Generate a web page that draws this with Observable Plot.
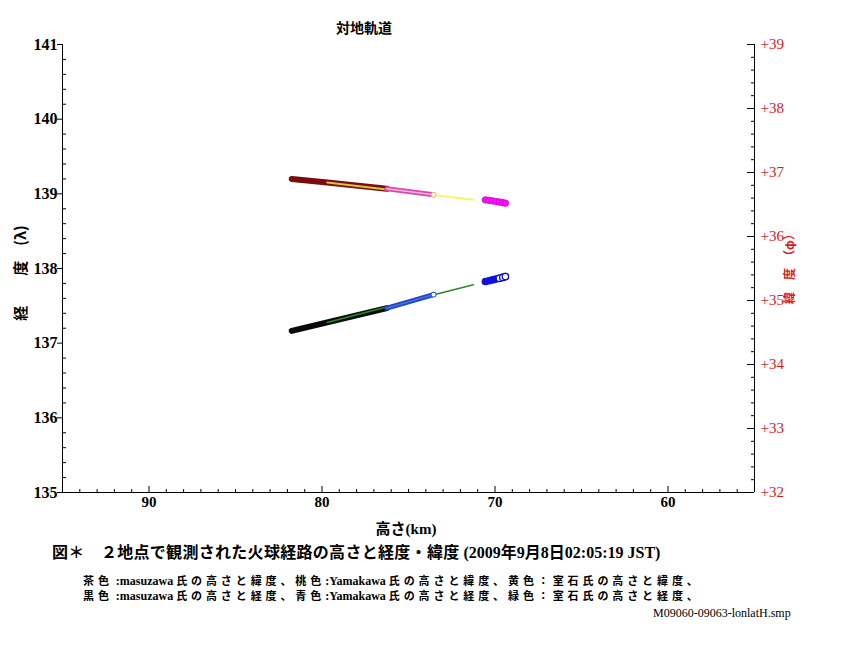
<!DOCTYPE html>
<html>
<head>
<meta charset="utf-8">
<script src="https://cdn.jsdelivr.net/npm/d3@7"></script>
<script src="https://cdn.jsdelivr.net/npm/@observablehq/plot@0.6"></script>
<style>
  body { margin: 0; background: #fff; }
  #wrap { position: relative; width: 841px; height: 645px; overflow: hidden; background: #fff; }
  #wrap svg { position: absolute; left: 0; top: 0; }
  #wrap svg text { font-family: "Liberation Serif", "Times New Roman", serif; }
  .t { position: absolute; white-space: nowrap; font-weight: bold; color: #000; }
  .c { transform: translate(-50%, -50%); }
  .j { font-family: "Noto Sans CJK JP", sans-serif; }
  .l { font-family: "Liberation Serif", "Noto Sans CJK JP", serif; }
  .sp { letter-spacing: 3.9px; }
  .l12 { font-size: 12px; }
</style>
</head>
<body>
<div id="wrap"></div>
<script>
// ---- texts / ticks ----
const chartTitle = "対地軌道";
const altTicks = [90, 80, 70, 60];
const lonTicks = [135, 136, 137, 138, 139, 140, 141];
const latTicks = [32, 33, 34, 35, 36, 37, 38, 39];

// ---- data (altitude km, latitude deg, longitude deg) ----
// Masuzawa: brown = latitude, black = longitude
const masuzawaAlt = [81.75, 79.7, 76.25];
const masuzawaLat = [36.900, 36.845, 36.745];
const masuzawaLon = [137.165, 137.278, 137.470];
// Yamakawa: pink = latitude, blue = longitude (main segment)
const yamakawaAlt = [76.25, 74.9, 73.55];
const yamakawaLat = [36.745, 36.700, 36.652];
const yamakawaLon = [137.470, 137.560, 137.650];
// Yamakawa: separate cluster of points
const yamakawa2Alt = [70.55, 70.35, 70.15, 69.95, 69.75, 69.55, 69.4];
const yamakawa2Lat = [36.572, 36.565, 36.557, 36.548, 36.539, 36.529, 36.521];
const yamakawa2Lon = [137.826, 137.836, 137.847, 137.858, 137.869, 137.881, 137.892];
// Muroishi: yellow = latitude, green = longitude
const muroishiAlt = [79.7, 75.5, 71.25];
const muroishiLat = [36.845, 36.710, 36.573];
const muroishiLon = [137.278, 137.530, 137.782];

// ---- dual axis mapping: latitude (right, 32..39) onto longitude scale (left, 135..141) ----
const toLon = lat => 135 + (lat - 32) * 6 / 7;
const fromLon = v => 32 + (v - 135) * 7 / 6;
const rows = (alt, vals, f = v => v) => alt.map((a, i) => ({alt: a, y: f(vals[i])}));

const W = 841, H = 645, mL = 62, mR = 87, mT = 44, mB = 153;
const fw = W - mL - mR, fh = H - mT - mB;
const serif = "Liberation Serif";
const red = "#d81a1a";

const minorAlt = d3.range(56, 95).filter(v => v % 10 !== 0);
const minorLon = d3.range(1, 30).filter(k => k % 5 !== 0).map(k => 135 + k * 0.2);
const minorLat = d3.range(1, 35).filter(k => k % 5 !== 0).map(k => toLon(32 + k * 0.2));

const brown = rows(masuzawaAlt, masuzawaLat, toLon);
const black = rows(masuzawaAlt, masuzawaLon);
const pink = rows(yamakawaAlt, yamakawaLat, toLon);
const blue = rows(yamakawaAlt, yamakawaLon);
const magenta2 = rows(yamakawa2Alt, yamakawa2Lat, toLon);
const blue2 = rows(yamakawa2Alt, yamakawa2Lon);
const yellow = rows(muroishiAlt, muroishiLat, toLon);
const green = rows(muroishiAlt, muroishiLon);

const chart = Plot.plot({
  width: W, height: H,
  marginLeft: mL, marginRight: mR, marginTop: mT, marginBottom: mB,
  style: {background: "transparent", overflow: "visible", fontFamily: "'Liberation Serif', serif"},
  x: {domain: [95, 55], label: null},
  y: {domain: [135, 141], label: null},
  marks: [
    // axis lines
    Plot.ruleX([95, 55], {stroke: "black"}),
    Plot.ruleY([135], {stroke: "black"}),
    // bottom ticks (inward)
    Plot.ruleX(altTicks, {insetTop: fh - 6, stroke: "black"}),
    Plot.ruleX(minorAlt, {insetTop: fh - 3, stroke: "black"}),
    // left ticks
    Plot.ruleY(lonTicks, {insetLeft: -5, insetRight: fw, stroke: "black"}),
    Plot.ruleY(minorLon, {insetRight: fw - 4, stroke: "black"}),
    // right ticks
    Plot.ruleY(latTicks.map(toLon), {insetLeft: fw - 7, stroke: "black"}),
    Plot.ruleY(minorLat, {insetLeft: fw - 3, stroke: "black"}),
    // tick labels
    Plot.axisX(altTicks, {tickSize: 0, tickPadding: 4, fontSize: 15, fontWeight: "bold", fontFamily: serif, label: null,
      tickFormat: d => String(d)}),
    Plot.axisY(lonTicks, {anchor: "left", tickSize: 0, tickPadding: 5, fontSize: 16, fontWeight: "bold", fontFamily: serif, label: null,
      tickFormat: d => String(d)}),
    Plot.axisY(latTicks.map(toLon), {anchor: "right", tickSize: 0, tickPadding: 6, fontSize: 15, fontFamily: serif, color: red, label: null,
      tickFormat: d => "+" + Math.round(fromLon(d))}),
    // latitude group
    Plot.line(brown, {x: "alt", y: "y", stroke: "#7a0c0c", strokeWidth: 6, strokeLinecap: "round"}),
    Plot.line(yellow, {x: "alt", y: "y", stroke: "#f2f24a", strokeWidth: 2, strokeOpacity: 0.8}),
    Plot.line(pink, {x: "alt", y: "y", stroke: "#d84aae", strokeWidth: 5, strokeLinecap: "round"}),
    Plot.line(pink, {x: "alt", y: "y", stroke: "#f4b6da", strokeWidth: 1.6}),
    Plot.dot(pink.slice(-1), {x: "alt", y: "y", r: 2.5, fill: "white", stroke: "#e8b070", strokeWidth: 1}),
    Plot.dot(magenta2, {x: "alt", y: "y", r: 3.2, fill: "#f018f0", stroke: "#e000e0", strokeWidth: 1}),
    // longitude group
    Plot.line(black, {x: "alt", y: "y", stroke: "#0a0a0a", strokeWidth: 6, strokeLinecap: "round"}),
    Plot.line(green, {x: "alt", y: "y", stroke: "#2a8a2a", strokeWidth: 1.5}),
    Plot.line(blue, {x: "alt", y: "y", stroke: "#2048c8", strokeWidth: 5, strokeLinecap: "round"}),
    Plot.line(blue, {x: "alt", y: "y", stroke: "#4a78e0", strokeWidth: 1.4}),
    Plot.dot(blue.slice(-1), {x: "alt", y: "y", r: 2.5, fill: "white", stroke: "#2048c8", strokeWidth: 1}),
    Plot.dot(blue2, {x: "alt", y: "y", r: 3.2, fill: "#1414e0", stroke: "#1010d8", strokeWidth: 1.3}),
    Plot.dot(blue2.slice(4), {x: "alt", y: "y", r: 3.2, fill: "white", stroke: "#1010d8", strokeWidth: 1.3})
  ]
});

const wrap = document.getElementById("wrap");
wrap.appendChild(chart);

function addText(html, style, cls = "t") {
  const d = document.createElement("div");
  d.className = cls;
  d.setAttribute("style", style);
  d.innerHTML = html;
  wrap.appendChild(d);
}

addText(`<span class="j">${chartTitle}</span>`, "left:364px;top:28px;font-size:14px;line-height:14px", "t c");
addText(`<span class="j">高さ</span><span class="l">(km)</span>`, "left:406px;top:528px;font-size:15px;line-height:15px", "t c");
addText(`<span class="j">経　　度　(λ)</span>`, "left:20px;top:273px;font-size:15px;line-height:15px;transform:translate(-50%,-50%) rotate(-90deg)");
addText(`<span class="j">緯　度　（φ）</span>`, "left:789px;top:266px;font-size:12px;line-height:12px;color:" + red + ";transform:translate(-50%,-50%) rotate(-90deg)");

addText(`<span class="j" style="letter-spacing:0.3px">図＊　２地点で観測された火球経路の高さと経度・緯度</span><span class="l"> (2009年9月8日02:05:19 JST)</span>`,
  "left:52px;top:543px;font-size:16px;line-height:16px");
addText(`<span class="j sp">茶色</span><span class="l l12"> :masuzawa </span><span class="j sp">氏の高さと緯度、桃色</span><span class="l l12">:Yamakawa </span><span class="j sp">氏の高さと緯度、黄色：室石氏の高さと緯度、</span>`,
  "left:83px;top:574px;font-size:11px;line-height:12px");
addText(`<span class="j sp">黒色</span><span class="l l12"> :masuzawa </span><span class="j sp">氏の高さと経度、青色</span><span class="l l12">:Yamakawa </span><span class="j sp">氏の高さと経度、緑色：室石氏の高さと経度、</span>`,
  "left:83px;top:589px;font-size:11px;line-height:12px");
addText(`<span class="l">M09060-09063-lonlatH.smp</span>`,
  "left:653px;top:607px;font-size:12px;line-height:12px;font-weight:normal");
</script>
</body>
</html>
